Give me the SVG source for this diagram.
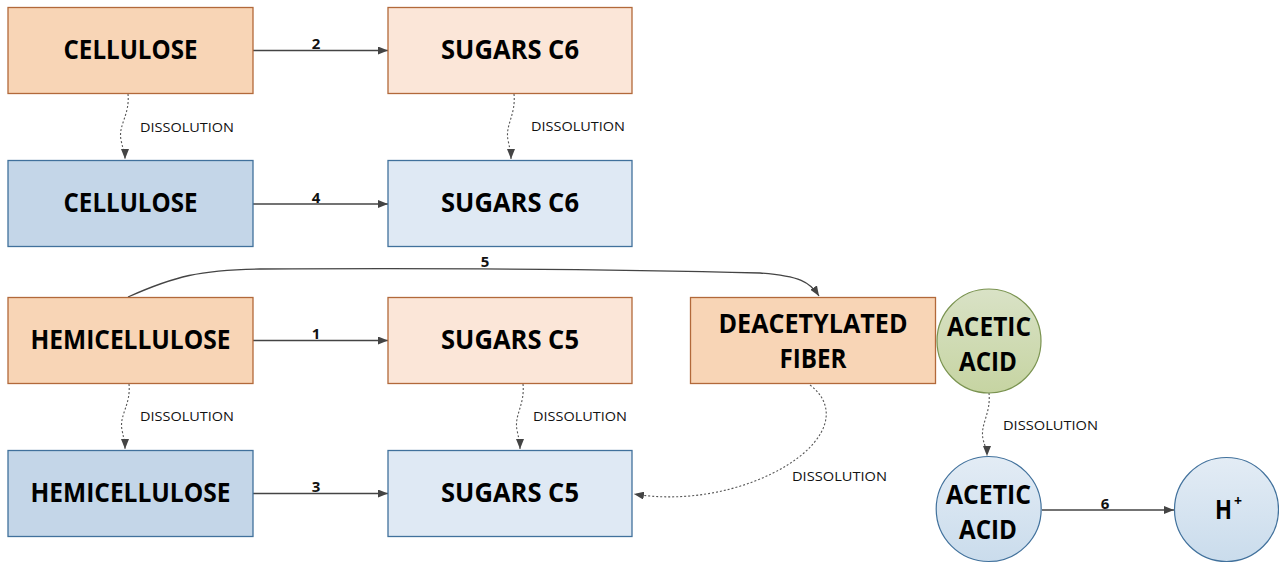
<svg xmlns="http://www.w3.org/2000/svg" width="1279" height="567" viewBox="0 0 1279 567">
<style>
.bx{stroke-width:1.3}
.or{fill:#F8D5B6;stroke:#B2693A}
.lo{fill:#FBE6D8;stroke:#B2693A}
.bl{fill:#C4D6E8;stroke:#41719C}
.lb{fill:#DFE9F4;stroke:#41719C}
.t{font-family:"Open Sans","Liberation Sans",sans-serif;font-weight:700;font-size:26px;fill:#000;text-anchor:middle}
.d{font-family:"Open Sans","Liberation Sans",sans-serif;font-size:13.5px;fill:#111}
.n{font-family:"Open Sans","Liberation Sans",sans-serif;font-weight:700;font-size:15px;fill:#111;text-anchor:middle}
.c{fill:none;stroke:#444;stroke-width:1.3}
.dot{fill:none;stroke:#555;stroke-width:1.1;stroke-dasharray:2 2}
</style>
<defs>
<marker id="ah" markerUnits="userSpaceOnUse" markerWidth="10" markerHeight="8" refX="10" refY="4" orient="auto">
<path d="M0,0 L10,4 L0,8 z" fill="#444"/>
</marker>
<linearGradient id="gg" x1="0" y1="0" x2="0" y2="1">
<stop offset="0" stop-color="#D9E2C6"/><stop offset="1" stop-color="#C6D4A2"/>
</linearGradient>
<linearGradient id="gb" x1="0" y1="0" x2="0" y2="1">
<stop offset="0" stop-color="#E3ECF5"/><stop offset="1" stop-color="#CADCEC"/>
</linearGradient>
</defs>

<g id="connectors">
<line class="c" x1="253" y1="50.5" x2="388" y2="50.5" marker-end="url(#ah)"/>
<text class="n" x="316" y="49">2</text>
<line class="c" x1="253" y1="204" x2="388" y2="204" marker-end="url(#ah)"/>
<text class="n" x="316" y="202.5">4</text>
<line class="c" x1="253" y1="340.5" x2="388" y2="340.5" marker-end="url(#ah)"/>
<text class="n" x="316" y="339">1</text>
<line class="c" x1="253" y1="493.5" x2="388" y2="493.5" marker-end="url(#ah)"/>
<text class="n" x="316" y="492">3</text>
<line class="c" x1="1042" y1="510" x2="1174" y2="510" marker-end="url(#ah)"/>
<text class="n" x="1105" y="508.5">6</text>
<path class="c" d="M128 297 C175 276 200 270 260 269 C450 268 650 270 760 273 C800 276 810 282 819 296" marker-end="url(#ah)"/>
<text class="n" x="485" y="267">5</text>

<path class="dot" d="M128 94 C130 115 118 125 121 140 C123 150 125 152 125 159" marker-end="url(#ah)"/>
<text class="d" x="140" y="132" textLength="94" lengthAdjust="spacingAndGlyphs">DISSOLUTION</text>
<path class="dot" d="M514 94 C516 115 505 125 508 140 C510 150 511 152 511 159" marker-end="url(#ah)"/>
<text class="d" x="531" y="131" textLength="94" lengthAdjust="spacingAndGlyphs">DISSOLUTION</text>
<path class="dot" d="M129 384 C131 405 119 415 122 430 C124 440 125 442 125 449" marker-end="url(#ah)"/>
<text class="d" x="140" y="421" textLength="94" lengthAdjust="spacingAndGlyphs">DISSOLUTION</text>
<path class="dot" d="M523 384 C525 405 514 415 517 430 C519 440 520 442 520 449" marker-end="url(#ah)"/>
<text class="d" x="533" y="421" textLength="94" lengthAdjust="spacingAndGlyphs">DISSOLUTION</text>
<path class="dot" d="M989 393 C991 414 980 424 983 439 C985 447 987 450 987 456" marker-end="url(#ah)"/>
<text class="d" x="1003" y="430" textLength="95" lengthAdjust="spacingAndGlyphs">DISSOLUTION</text>
<path class="dot" d="M810 385 C830 400 835 425 805 452 C770 483 700 505 634 494" marker-end="url(#ah)"/>
<text class="d" x="792" y="481" textLength="95" lengthAdjust="spacingAndGlyphs">DISSOLUTION</text>
</g>

<g id="cellulose-top"><rect class="bx or" x="8" y="7.5" width="245" height="86"/>
<text class="t" x="130.5" y="59" textLength="134" lengthAdjust="spacingAndGlyphs">CELLULOSE</text></g>
<g id="sugars-c6-top"><rect class="bx lo" x="388" y="7.5" width="244" height="86"/>
<text class="t" x="510" y="59" textLength="138" lengthAdjust="spacingAndGlyphs">SUGARS C6</text></g>
<g id="cellulose-bottom"><rect class="bx bl" x="8" y="160.5" width="245" height="86"/>
<text class="t" x="130.5" y="212" textLength="134" lengthAdjust="spacingAndGlyphs">CELLULOSE</text></g>
<g id="sugars-c6-bottom"><rect class="bx lb" x="388" y="160.5" width="244" height="86"/>
<text class="t" x="510" y="212" textLength="138" lengthAdjust="spacingAndGlyphs">SUGARS C6</text></g>
<g id="hemicellulose-top"><rect class="bx or" x="8" y="297.5" width="245" height="86"/>
<text class="t" x="130.5" y="349" textLength="200" lengthAdjust="spacingAndGlyphs">HEMICELLULOSE</text></g>
<g id="sugars-c5-top"><rect class="bx lo" x="388" y="297.5" width="244" height="86"/>
<text class="t" x="510" y="349" textLength="138" lengthAdjust="spacingAndGlyphs">SUGARS C5</text></g>
<g id="hemicellulose-bottom"><rect class="bx bl" x="8" y="450.5" width="245" height="86"/>
<text class="t" x="130.5" y="502" textLength="200" lengthAdjust="spacingAndGlyphs">HEMICELLULOSE</text></g>
<g id="sugars-c5-bottom"><rect class="bx lb" x="388" y="450.5" width="244" height="86"/>
<text class="t" x="510" y="502" textLength="138" lengthAdjust="spacingAndGlyphs">SUGARS C5</text></g>
<g id="deacetylated-fiber"><rect class="bx or" x="690.5" y="297.5" width="245" height="86"/>
<text class="t" x="813" y="333" textLength="189" lengthAdjust="spacingAndGlyphs">DEACETYLATED</text>
<text class="t" x="813" y="368" textLength="67" lengthAdjust="spacingAndGlyphs">FIBER</text></g>
<g id="acetic-acid-green"><circle cx="989" cy="341" r="52" fill="url(#gg)" stroke="#7A9350" stroke-width="1.2"/>
<text class="t" x="989" y="336" textLength="84" lengthAdjust="spacingAndGlyphs">ACETIC</text>
<text class="t" x="988" y="371" textLength="58" lengthAdjust="spacingAndGlyphs">ACID</text></g>
<g id="acetic-acid-blue"><circle cx="988.7" cy="509" r="52.5" fill="url(#gb)" stroke="#41719C" stroke-width="1.2"/>
<text class="t" x="988.5" y="504" textLength="85" lengthAdjust="spacingAndGlyphs">ACETIC</text>
<text class="t" x="988" y="539" textLength="58" lengthAdjust="spacingAndGlyphs">ACID</text></g>
<g id="h-plus"><circle cx="1226.5" cy="509.5" r="52" fill="url(#gb)" stroke="#41719C" stroke-width="1.2"/>
<text class="t" x="1223.5" y="519" textLength="17" lengthAdjust="spacingAndGlyphs">H</text>
<text class="t" x="1238" y="506" style="font-size:14px">+</text></g>
</svg>
